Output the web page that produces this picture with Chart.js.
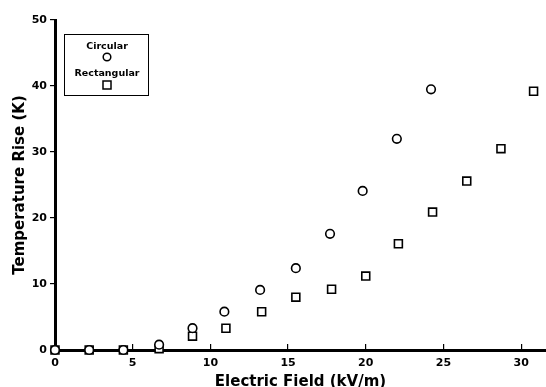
<!DOCTYPE html>
<html>
<head>
<meta charset="utf-8">
<script src="https://cdn.jsdelivr.net/npm/chart.js@4"></script>
<style>
  html, body { margin: 0; padding: 0; background: #fff; }
  #wrap { width: 546px; height: 387px; position: relative; }
</style>
</head>
<body>
<div id="wrap"><canvas id="chart"></canvas></div>
<script>
// values
const circularField = [0, 2.2, 4.4, 6.7, 8.85, 10.9, 13.2, 15.5, 17.7, 19.8, 22.0, 24.2];
const circularRise = [0, 0, 0, 0.8, 3.3, 5.8, 9.1, 12.4, 17.6, 24.1, 32.0, 39.5];

const rectField = [0, 2.2, 4.4, 6.7, 8.85, 11.0, 13.3, 15.5, 17.8, 20.0, 22.1, 24.3, 26.5, 28.7, 30.8];
const rectRise = [0, 0, 0, 0.2, 2.1, 3.3, 5.8, 8.0, 9.2, 11.2, 16.1, 20.9, 25.6, 30.5, 39.2];

const xTicks = [0, 5, 10, 15, 20, 25, 30];
const yTicks = [0, 10, 20, 30, 40, 50];

function toPoints(xs, ys) {
    return xs.map((x, i) => ({ x: x, y: ys[i] }));
}

const font = "'DejaVu Sans', Arial, sans-serif";

// legend box in the upper left corner
const boxLegend = {
    id: 'boxLegend',
    afterDraw(chart) {
        const ctx = chart.ctx;
        ctx.save();
        ctx.strokeStyle = '#000';
        ctx.lineWidth = 1;
        ctx.strokeRect(64.5, 34.5, 84, 61);
        ctx.fillStyle = '#000';
        ctx.font = "bold 9.5px " + font;
        ctx.textAlign = 'center';
        ctx.textBaseline = 'middle';
        ctx.fillText(chart.data.datasets[0].label, 107, 47);
        ctx.fillText(chart.data.datasets[1].label, 107, 74);
        ctx.lineWidth = 1.5;
        ctx.beginPath();
        ctx.arc(107, 57, 3.8, 0, Math.PI * 2);
        ctx.stroke();
        ctx.strokeRect(103, 81, 8, 8);
        ctx.restore();
    }
};

new Chart(document.getElementById('chart'), {
    type: 'scatter',
    data: {
        datasets: [
            {
                label: 'Circular',
                data: toPoints(circularField, circularRise),
                pointStyle: 'circle',
                pointRadius: 4.3,
                borderColor: '#000',
                backgroundColor: '#fff',
                borderWidth: 1.6,
                clip: false
            },
            {
                label: 'Rectangular',
                data: toPoints(rectField, rectRise),
                pointStyle: 'rect',
                pointRadius: 5.6,
                borderColor: '#000',
                backgroundColor: '#fff',
                borderWidth: 1.6,
                clip: false
            }
        ]
    },
    options: {
        responsive: true,
        maintainAspectRatio: false,
        animation: false,
        layout: { autoPadding: false, padding: { top: 20, right: 0, left: 0, bottom: 0 } },
        plugins: {
            legend: { display: false },
            tooltip: { enabled: false }
        },
        scales: {
            x: {
                type: 'linear',
                min: 0,
                max: 31.6,
                afterFit: s => { s.height = 37; s.paddingRight = 0; s.paddingLeft = 0; },
                afterBuildTicks: s => { s.ticks = xTicks.map(v => ({ value: v })); },
                border: { color: '#000', width: 3 },
                grid: { drawOnChartArea: false, drawTicks: true, tickLength: -6, color: '#000', lineWidth: 1.2 },
                ticks: {
                    color: '#000',
                    padding: 13,
                    maxRotation: 0,
                    font: { family: font, size: 11, weight: 'bold' }
                },
                title: {
                    display: true,
                    text: 'Electric Field (kV/m)',
                    color: '#000',
                    padding: { top: 0, bottom: -3 },
                    font: { family: font, size: 15, weight: 'bold', lineHeight: 1 }
                }
            },
            y: {
                type: 'linear',
                min: 0,
                max: 50,
                afterFit: s => { s.width = 55; },
                afterBuildTicks: s => { s.ticks = yTicks.map(v => ({ value: v })); },
                border: { color: '#000', width: 3 },
                grid: { drawOnChartArea: false, drawTicks: true, tickLength: 5, color: '#000', lineWidth: 1.2 },
                ticks: {
                    color: '#000',
                    padding: 3,
                    font: { family: font, size: 11, weight: 'bold' }
                },
                title: {
                    display: true,
                    text: 'Temperature Rise (K)',
                    color: '#000',
                    padding: { top: 11, bottom: 0 },
                    font: { family: font, size: 15, weight: 'bold' }
                }
            }
        }
    },
    plugins: [boxLegend]
});
</script>
</body>
</html>
